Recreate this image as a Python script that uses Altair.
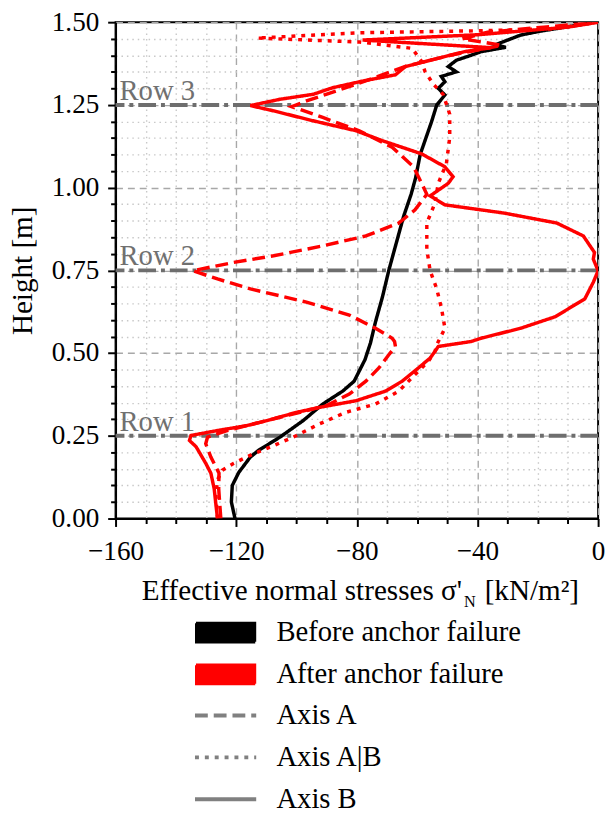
import altair as alt
import pandas as pd

FONT = "Liberation Serif"
TICK_FS = 27.5
TXT_FS = 29.5

# ---------------- data (stress kN/m², height m) ----------------
before_stress = [-120.4, -121.6, -121.3, -119.1, -115.3, -112.6, -105.5, -97.8, -91.3, -84.7,
                 -80.9, -78.7, -77.3, -75.5, -73.8, -71.5, -69.4, -67.0, -64.5, -62.0,
                 -60.5, -59.0, -55.2, -53.5, -50.8, -53.0, -50.8, -52.0, -47.0, -49.7,
                 -47.0, -42.1, -38.8, -30.6, -34.0, -25.7, -19.1, -2.0]
before_height = [0.0, 0.05, 0.10, 0.14, 0.186, 0.206, 0.246, 0.296, 0.346, 0.385,
                 0.415, 0.455, 0.48, 0.53, 0.595, 0.67, 0.75, 0.83, 0.913, 0.98,
                 1.03, 1.10, 1.20, 1.25, 1.28, 1.30, 1.32, 1.336, 1.35, 1.366,
                 1.385, 1.40, 1.411, 1.424, 1.432, 1.461, 1.473, 1.498]

axisB_stress = [-126.2, -126.7, -127.3, -128.4, -130.1, -131.7, -133.3, -135.5, -135.0, -126.2,
                -116.4, -109.8, -100.0, -92.4, -80.3, -70.5, -65.0, -59.6, -55.7, -54.1,
                -53.0, -42.1, -38.8, -25.7, -14.2, -4.4, -1.6, 0.0, -1.6, -1.2,
                -4.9, -13.7, -31.1, -50.8, -55.7, -49.7, -48.1, -50.8, -58.5, -71.6,
                -80.3, -94.5, -107.6, -115.3, -105.5, -94.5, -88.0, -78.1, -67.2, -63.9,
                -53.0, -44.3, -35.5, -78.1, -40.0, -10.0, 0.0]
axisB_height = [0.0, 0.04, 0.09, 0.137, 0.167, 0.192, 0.217, 0.236, 0.251, 0.266,
                0.281, 0.296, 0.321, 0.336, 0.356, 0.385, 0.415, 0.455, 0.485, 0.505,
                0.52, 0.535, 0.545, 0.575, 0.61, 0.664, 0.714, 0.749, 0.784, 0.804,
                0.854, 0.893, 0.923, 0.948, 0.975, 1.013, 1.033, 1.063, 1.102, 1.142,
                1.172, 1.202, 1.232, 1.248, 1.267, 1.282, 1.302, 1.322, 1.341, 1.366,
                1.391, 1.411, 1.423, 1.446, 1.462, 1.485, 1.5]

axisA_stress = [-125.1, -125.5, -125.8, -125.7, -128.4, -130.1, -129.5, -123.0, -114.2, -105.5,
                -96.7, -90.2, -82.5, -77.0, -72.7, -69.4, -67.2, -67.5, -68.3, -73.8,
                -82.5, -96.7, -115.3, -126.2, -134.4, -120.8, -107.6, -91.3, -77.0, -66.1,
                -60.7, -56.8, -58.5, -61.2, -68.3, -79.2, -91.3, -101.6, -96.7, -90.2,
                -80.3, -71.6, -63.9, -57.4, -48.6, -39.9, -32.0, -45.0, -36.6, -18.0, 0.0]
axisA_height = [0.0, 0.05, 0.09, 0.137, 0.186, 0.226, 0.246, 0.266, 0.286, 0.306,
                0.326, 0.341, 0.376, 0.415, 0.455, 0.495, 0.52, 0.535, 0.545, 0.575,
                0.615, 0.654, 0.694, 0.724, 0.749, 0.774, 0.794, 0.824, 0.854, 0.893,
                0.933, 0.98, 1.013, 1.063, 1.122, 1.172, 1.212, 1.245, 1.262, 1.282,
                1.312, 1.341, 1.366, 1.381, 1.401, 1.416, 1.43, 1.45, 1.47, 1.485, 1.5]

axisAB_stress = [-126.2, -126.5, -126.7, -126.2, -124.6, -120.8, -114.2, -108.7, -101.1, -92.4,
                 -83.6, -73.8, -66.1, -60.7, -56.3, -54.1, -53.5, -50.8, -51.9, -53.5,
                 -55.7, -56.8, -56.8, -54.1, -53.0, -50.3, -49.2, -49.2, -51.4, -54.6,
                 -57.4, -58.5, -61.7, -79.0, -113.0, -79.0, -40.0, -15.0, 0.0]
axisAB_height = [0.0, 0.04, 0.07, 0.117, 0.146, 0.167, 0.196, 0.216, 0.246, 0.286,
                 0.321, 0.346, 0.385, 0.435, 0.475, 0.505, 0.525, 0.575, 0.634, 0.694,
                 0.749, 0.814, 0.893, 0.953, 1.013, 1.073, 1.152, 1.222, 1.282, 1.312,
                 1.351, 1.381, 1.421, 1.44, 1.452, 1.468, 1.474, 1.48, 1.5]

states = ["Before anchor failure", "After anchor failure"]
axes_names = ["Axis A", "Axis A|B", "Axis B"]
row_heights = [0.25, 0.75, 1.25]
row_labels = ["Row 1", "Row 2", "Row 3"]
x_ticks = list(range(-160, 1, 10))
y_ticks = [round(i * 0.05, 2) for i in range(31)]

# ---------------- table ----------------
rows = []
def add(xs, ys, state, axis, name):
    for i, (x, y) in enumerate(zip(xs, ys)):
        rows.append(dict(stress=x, height=y, state=state, axis=axis, series=name, idx=i))

add(before_stress, before_height, states[0], "Axis B", "before")
add(axisA_stress, axisA_height, states[1], "Axis A", "A")
add(axisAB_stress, axisAB_height, states[1], "Axis A|B", "AB")
add(axisB_stress, axisB_height, states[1], "Axis B", "B")
df = pd.DataFrame(rows)
row_df = pd.DataFrame({"height": row_heights, "label": row_labels})

xscale = alt.Scale(domain=[-160, 0], nice=False, zero=False)
yscale = alt.Scale(domain=[0, 1.5], nice=False, zero=False)

x_major = "datum.value % 40 === 0"
y_major = "abs(datum.value * 4 - round(datum.value * 4)) < 0.001"

common_axis = dict(
    labelFont=FONT, labelFontSize=TICK_FS, labelColor="black",
    labelFlush=False, labelOverlap=False,
    titleFont=FONT, titleFontSize=TXT_FS, titleColor="black", titleFontWeight="normal",
    domainColor="black", domainWidth=2, tickColor="black", tickWidth=2,
    gridWidth=1.4,
)

x_axis = alt.Axis(
    values=x_ticks, title="", format="d", labelPadding=11,
    labelExpr=f"{x_major} ? datum.label : ''",
    tickSize={"condition": {"test": x_major, "value": 8}, "value": 5},
    gridDash={"condition": {"test": x_major, "value": [7, 5]}, "value": [1.5, 4]},
    gridColor={"condition": {"test": x_major, "value": "#a8a8a8"}, "value": "#c8c8c8"},
    **common_axis,
)
y_axis = alt.Axis(
    values=y_ticks, title="Height [m]", titlePadding=14, labelPadding=9,
    labelExpr=f"{y_major} ? format(datum.value, '.2f') : ''",
    tickSize={"condition": {"test": y_major, "value": 8}, "value": 5},
    gridDash={"condition": {"test": y_major, "value": [7, 5]}, "value": [1.5, 4]},
    gridColor={"condition": {"test": y_major, "value": "#a8a8a8"}, "value": "#c8c8c8"},
    **common_axis,
)

# legend symbol shapes (unit = sqrt(symbolSize)/2 = 11 px)
# filled rectangle drawn as a dense serpentine of thin strokes
_ys = [-0.909 + i * 0.1515 for i in range(13)]
_parts = []
for i, yy in enumerate(_ys):
    a, b = (-2.73, 2.73) if i % 2 == 0 else (2.73, -2.73)
    _parts.append(f"{'M' if i == 0 else 'L'}{a},{yy:.3f}L{b},{yy:.3f}")
sym_rect = "".join(_parts)
sym_line = "M-2.82,0L2.82,0"

legend_common = dict(
    title=None, orient="none", legendX=95, symbolSize=484, symbolOffset=2,
    symbolFillColor="transparent",
    labelFont=FONT, labelFontSize=29, labelColor="black", labelOffset=37,
    labelLimit=500, rowPadding=12.5,
)
color_legend = alt.Legend(legendY=604, symbolType=sym_rect, symbolStrokeWidth=2,
                          **legend_common)
dash_legend = alt.Legend(legendY=688, symbolType=sym_line, symbolStrokeWidth=4,
                         symbolStrokeColor="#808080", **legend_common)

color_enc = alt.Color("state:N", scale=alt.Scale(domain=states, range=["#000000", "#ff0000"]),
                      legend=color_legend)
dash_enc = alt.StrokeDash("axis:N", scale=alt.Scale(domain=axes_names,
                                                    range=[[13, 6], [4, 6], [1, 0]]),
                          legend=dash_legend)

def line_layer(data):
    return alt.Chart(data).mark_line(strokeWidth=3.5, clip=True).encode(
        x=alt.X("stress:Q", scale=xscale, axis=x_axis),
        y=alt.Y("height:Q", scale=yscale, axis=y_axis),
        color=color_enc,
        strokeDash=dash_enc,
        detail="series:N",
        order="idx:Q",
    )

black = line_layer(df[df.series == "before"])
red = line_layer(df[df.series != "before"])

rules = alt.Chart(row_df).mark_rule(color="#6e6e6e", strokeWidth=4,
                                    strokeDash=[18, 5, 4, 5]).encode(
    y=alt.Y("height:Q", scale=yscale, axis=y_axis))

row_text = alt.Chart(row_df).mark_text(align="left", baseline="alphabetic", dy=-5,
                                       font=FONT, fontSize=29, color="#707070").encode(
    x=alt.value(4), y=alt.Y("height:Q", scale=yscale, axis=y_axis), text="label:N")

t1 = alt.Chart(pd.DataFrame({"t": ["Effective normal stresses σ'"]})).mark_text(
    align="right", baseline="alphabetic", font=FONT, fontSize=TXT_FS, color="black").encode(
    x=alt.value(351), y=alt.value(586), text="t:N")
t2 = alt.Chart(pd.DataFrame({"t": ["N"]})).mark_text(
    align="left", baseline="alphabetic", font=FONT, fontSize=16.5, color="black").encode(
    x=alt.value(353), y=alt.value(593), text="t:N")
t3 = alt.Chart(pd.DataFrame({"t": ["[kN/m²]"]})).mark_text(
    align="left", baseline="alphabetic", font=FONT, fontSize=TXT_FS, color="black").encode(
    x=alt.value(374), y=alt.value(586), text="t:N")

chart = alt.layer(rules, row_text, black, red, t1, t2, t3).properties(
    width=489, height=503,
    autosize=alt.AutoSizeParams(type="none"),
    padding={"left": 109, "top": 9, "right": 9, "bottom": 292},
).configure(font=FONT).configure_view(stroke="black", strokeWidth=2).configure_axis(
    labelFont=FONT, titleFont=FONT)

chart.save("out.html", embed_options={"renderer": "svg", "actions": False})
